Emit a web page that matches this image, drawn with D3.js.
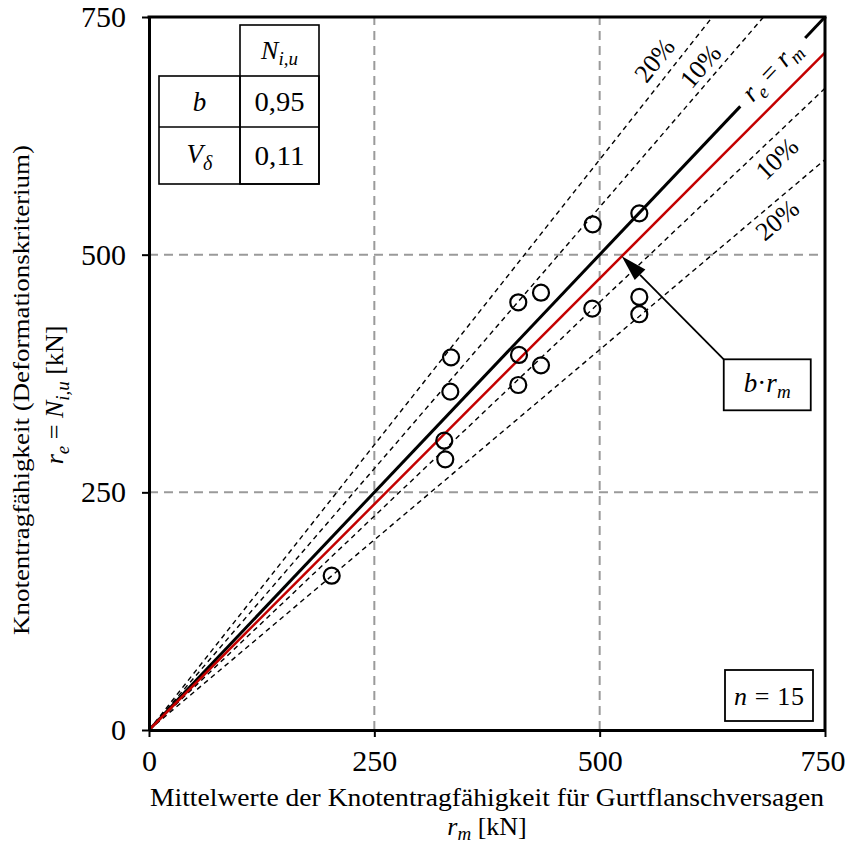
<!DOCTYPE html>
<html>
<head>
<meta charset="utf-8">
<script src="https://cdn.jsdelivr.net/npm/d3@7"></script>
<style>
  body { margin: 0; background: #fff; }
  svg { display: block; }
  text { font-family: "Liberation Serif", "Times New Roman", serif; fill: #000; }
</style>
</head>
<body>
<svg id="chart" width="846" height="847"></svg>
<script>
// Mean joint capacity (chord flange failure) r_m vs. test capacity r_e, kN
const rm = [202.7, 327.6, 328.7, 335.1, 334.3, 409.7, 410.5, 409.7, 434.9, 434.9, 492.3, 491.8, 544.0, 544.0, 544.0];
const re = [162.3, 304.3, 284.7, 392.0, 355.9, 449.9, 394.5, 362.9, 460.0, 383.6, 531.9, 443.3, 543.5, 455.5, 437.3];

const xTicks = [0, 250, 500, 750];
const yTicks = [0, 250, 500, 750];
const gridValues = [250, 500];

// Statistical evaluation
const bFactor = 0.95;
const bLabel = "0,95";
const vDeltaLabel = "0,11";

// ±10 % / ±20 % scatter bands
const bandFactors = [1.2, 1.1, 0.9, 0.8];
const bandLabels = ["20%", "10%", "10%", "20%"];
const bandLabelAt = [577, 625, 683, 686];      // position along each band (r_m)
const bandLabelOffset = [19, 16, -17.5, -15];  // perpendicular offset, px

const svg = d3.select("#chart");
const x = d3.scaleLinear().domain([0, 750]).range([149, 825]);
const y = d3.scaleLinear().domain([0, 750]).range([730, 17]);

// Grid
const grid = svg.append("g").attr("stroke", "#9a9a9a").attr("stroke-width", 2).attr("stroke-dasharray", "9,6");
gridValues.forEach(v => {
  grid.append("line").attr("x1", x(v)).attr("x2", x(v)).attr("y1", y(0)).attr("y2", y(750));
  grid.append("line").attr("x1", x(0)).attr("x2", x(750)).attr("y1", y(v)).attr("y2", y(v));
});

// Band lines (clipped to the domain)
bandFactors.forEach(k => {
  const xEnd = k > 1 ? 750 / k : 750;
  svg.append("line")
    .attr("x1", x(0)).attr("y1", y(0))
    .attr("x2", x(xEnd)).attr("y2", y(k * xEnd))
    .attr("stroke", "#000").attr("stroke-width", 1.4).attr("stroke-dasharray", "5,4");
});

// r_e = r_m, interrupted for its label
const diagGap = [656, 728];
[[0, diagGap[0]], [diagGap[1], 750]].forEach(([a, b]) => {
  svg.append("line")
    .attr("x1", x(a)).attr("y1", y(a)).attr("x2", x(b)).attr("y2", y(b))
    .attr("stroke", "#000").attr("stroke-width", 3);
});

// b·r_m
svg.append("line")
  .attr("x1", x(0)).attr("y1", y(0)).attr("x2", x(750)).attr("y2", y(bFactor * 750))
  .attr("stroke", "#c40000").attr("stroke-width", 2.5);

// Test results
svg.append("g").selectAll("circle").data(rm).join("circle")
  .attr("cx", d => x(d)).attr("cy", (d, i) => y(re[i])).attr("r", 8)
  .attr("fill", "none").attr("stroke", "#000").attr("stroke-width", 2.2);

// Axes
const xAxis = svg.append("g").attr("transform", `translate(0,${y(0)})`)
  .call(d3.axisBottom(x).tickValues(xTicks).tickSize(7).tickSizeOuter(0).tickPadding(14));
const yAxis = svg.append("g").attr("transform", `translate(${x(0)},0)`)
  .call(d3.axisLeft(y).tickValues(yTicks).tickSize(7).tickSizeOuter(0).tickPadding(16));
[xAxis, yAxis].forEach(g => {
  g.select(".domain").attr("stroke", "#000").attr("stroke-width", 3);
  g.selectAll(".tick line").attr("stroke", "#000").attr("stroke-width", 2);
  g.selectAll(".tick text").attr("font-family", "Liberation Serif").attr("font-size", 30).attr("fill", "#000");
});
xAxis.selectAll(".tick text").attr("dy", "0.68em");
// last x label sits flush with the right edge of the page
xAxis.selectAll(".tick text").filter(d => d === xTicks[xTicks.length - 1])
  .attr("text-anchor", "end").attr("x", 846 - x(750) - 1);

// Frame top/right
svg.append("line").attr("x1", x(0) - 1.5).attr("x2", x(750) + 1.5).attr("y1", y(750)).attr("y2", y(750))
  .attr("stroke", "#000").attr("stroke-width", 3);
svg.append("line").attr("x1", x(750)).attr("x2", x(750)).attr("y1", y(750)).attr("y2", y(0))
  .attr("stroke", "#000").attr("stroke-width", 3);

// Rotated labels along lines
function alongLine(k, t, offset) {
  const dx = x(1) - x(0), dy = y(k) - y(0);
  const L = Math.hypot(dx, dy);
  const ux = dx / L, uy = dy / L;
  const nx = uy, ny = -ux;
  return { px: x(t) + nx * offset, py: y(k * t) + ny * offset, angle: Math.atan2(dy, dx) * 180 / Math.PI };
}

bandFactors.forEach((k, i) => {
  const p = alongLine(k, bandLabelAt[i], bandLabelOffset[i]);
  svg.append("text")
    .attr("transform", `translate(${p.px},${p.py}) rotate(${p.angle})`)
    .attr("text-anchor", "middle").attr("dy", "0.35em")
    .attr("font-size", 26).text(bandLabels[i]);
});

{
  const p = alongLine(1, (diagGap[0] + diagGap[1]) / 2, 0);
  const t = svg.append("text")
    .attr("transform", `translate(${p.px},${p.py}) rotate(${p.angle})`)
    .attr("text-anchor", "middle").attr("dy", "0.25em").attr("font-size", 27);
  t.append("tspan").attr("font-style", "italic").text("r");
  t.append("tspan").attr("font-style", "italic").attr("font-size", 19).attr("dy", 6).text("e");
  t.append("tspan").attr("dy", -6).text(" = ");
  t.append("tspan").attr("font-style", "italic").text("r");
  t.append("tspan").attr("font-style", "italic").attr("font-size", 19).attr("dy", 6).text("m");
}

// Statistics table
const tbl = svg.append("g").attr("fill", "none").attr("stroke", "#000").attr("stroke-width", 1.6);
const colX = [159, 240, 319], rowY = [25, 76, 127, 184];
tbl.append("rect").attr("x", colX[1]).attr("y", rowY[0]).attr("width", colX[2] - colX[1]).attr("height", rowY[3] - rowY[0]);
tbl.append("rect").attr("x", colX[0]).attr("y", rowY[1]).attr("width", colX[2] - colX[0]).attr("height", rowY[3] - rowY[1]);
tbl.append("line").attr("x1", colX[0]).attr("x2", colX[2]).attr("y1", rowY[2]).attr("y2", rowY[2]);
tbl.append("line").attr("x1", colX[1]).attr("x2", colX[1]).attr("y1", rowY[1]).attr("y2", rowY[3]);

const cx0 = (colX[0] + colX[1]) / 2, cx1 = (colX[1] + colX[2]) / 2;
{
  const t = svg.append("text").attr("x", cx1).attr("y", (rowY[0] + rowY[1]) / 2 + 8).attr("text-anchor", "middle").attr("font-size", 26);
  t.append("tspan").attr("font-style", "italic").text("N");
  t.append("tspan").attr("font-style", "italic").attr("font-size", 19).attr("dy", 6).text("i,u");
}
svg.append("text").attr("x", cx0).attr("y", (rowY[1] + rowY[2]) / 2 + 9).attr("text-anchor", "middle")
  .attr("font-size", 27).attr("font-style", "italic").text("b");
svg.append("text").attr("x", cx1).attr("y", (rowY[1] + rowY[2]) / 2 + 9).attr("text-anchor", "middle")
  .attr("font-size", 27).attr("textLength", 50).attr("lengthAdjust", "spacingAndGlyphs").text(bLabel);
{
  const t = svg.append("text").attr("x", cx0).attr("y", (rowY[2] + rowY[3]) / 2 + 7).attr("text-anchor", "middle").attr("font-size", 27);
  t.append("tspan").attr("font-style", "italic").text("V");
  t.append("tspan").attr("font-style", "italic").attr("font-size", 20).attr("dy", 7).text("δ");
}
svg.append("text").attr("x", cx1).attr("y", (rowY[2] + rowY[3]) / 2 + 9).attr("text-anchor", "middle")
  .attr("font-size", 27).attr("textLength", 50).attr("lengthAdjust", "spacingAndGlyphs").text(vDeltaLabel);

// Callout for b·r_m
{
  const tipX = 524.5;
  const tip = [x(tipX), y(bFactor * tipX)];
  const box = { x: tip[0] + 102, y: tip[1] + 103, w: 87, h: 51 };
  const ang = Math.atan2(box.y - tip[1], box.x - tip[0]);
  const hl = 26, hw = 7.5;
  const bx = tip[0] + Math.cos(ang) * hl, by = tip[1] + Math.sin(ang) * hl;
  svg.append("line").attr("x1", bx).attr("y1", by).attr("x2", box.x).attr("y2", box.y)
    .attr("stroke", "#000").attr("stroke-width", 1.8);
  svg.append("path")
    .attr("d", `M${tip[0]},${tip[1]} L${bx - Math.sin(ang) * hw},${by + Math.cos(ang) * hw} L${bx + Math.sin(ang) * hw},${by - Math.cos(ang) * hw} Z`)
    .attr("fill", "#000");
  svg.append("rect").attr("x", box.x).attr("y", box.y).attr("width", box.w).attr("height", box.h)
    .attr("fill", "#fff").attr("stroke", "#000").attr("stroke-width", 1.8);
  const t = svg.append("text").attr("x", box.x + box.w / 2).attr("y", box.y + box.h / 2 + 7)
    .attr("text-anchor", "middle").attr("font-size", 27);
  t.append("tspan").attr("font-style", "italic").text("b");
  t.append("tspan").text("·");
  t.append("tspan").attr("font-style", "italic").text("r");
  t.append("tspan").attr("font-style", "italic").attr("font-size", 19).attr("dy", 6).text("m");
}

// Sample size
{
  const box = { x: x(750) - 100, y: y(0) - 60, w: 88, h: 51 };
  svg.append("rect").attr("x", box.x).attr("y", box.y).attr("width", box.w).attr("height", box.h)
    .attr("fill", "#fff").attr("stroke", "#000").attr("stroke-width", 1.8);
  const t = svg.append("text").attr("x", box.x + box.w / 2).attr("y", box.y + box.h / 2 + 9)
    .attr("text-anchor", "middle").attr("font-size", 26)
    .attr("textLength", 70).attr("lengthAdjust", "spacing");
  t.append("tspan").attr("font-style", "italic").text("n");
  t.append("tspan").text(" = " + rm.length);
}

// Axis titles
svg.append("text").attr("x", (x(0) + x(750)) / 2).attr("y", 806).attr("text-anchor", "middle")
  .attr("font-size", 26).attr("textLength", 674).attr("lengthAdjust", "spacingAndGlyphs")
  .text("Mittelwerte der Knotentragfähigkeit für Gurtflanschversagen");
{
  const t = svg.append("text").attr("x", (x(0) + x(750)) / 2).attr("y", 835).attr("text-anchor", "middle").attr("font-size", 26);
  t.append("tspan").attr("font-style", "italic").text("r");
  t.append("tspan").attr("font-style", "italic").attr("font-size", 19).attr("dy", 5).text("m");
  t.append("tspan").attr("dy", -5).text(" [kN]");
}
{
  const cy = 390;
  svg.append("text").attr("transform", `translate(29,${cy}) rotate(-90)`).attr("text-anchor", "middle")
    .attr("font-size", 24).attr("textLength", 490).attr("lengthAdjust", "spacingAndGlyphs")
    .text("Knotentragfähigkeit (Deformationskriterium)");
  const t = svg.append("text").attr("transform", `translate(63,${cy + 5}) rotate(-90)`).attr("text-anchor", "middle")
    .attr("font-size", 26);
  t.append("tspan").attr("font-style", "italic").text("r");
  t.append("tspan").attr("font-style", "italic").attr("font-size", 19).attr("dy", 6).text("e");
  t.append("tspan").attr("dy", -6).text(" = ");
  t.append("tspan").attr("font-style", "italic").text("N");
  t.append("tspan").attr("font-style", "italic").attr("font-size", 19).attr("dy", 6).text("i,u");
  t.append("tspan").attr("dy", -6).text(" [kN]");
}
</script>
</body>
</html>
